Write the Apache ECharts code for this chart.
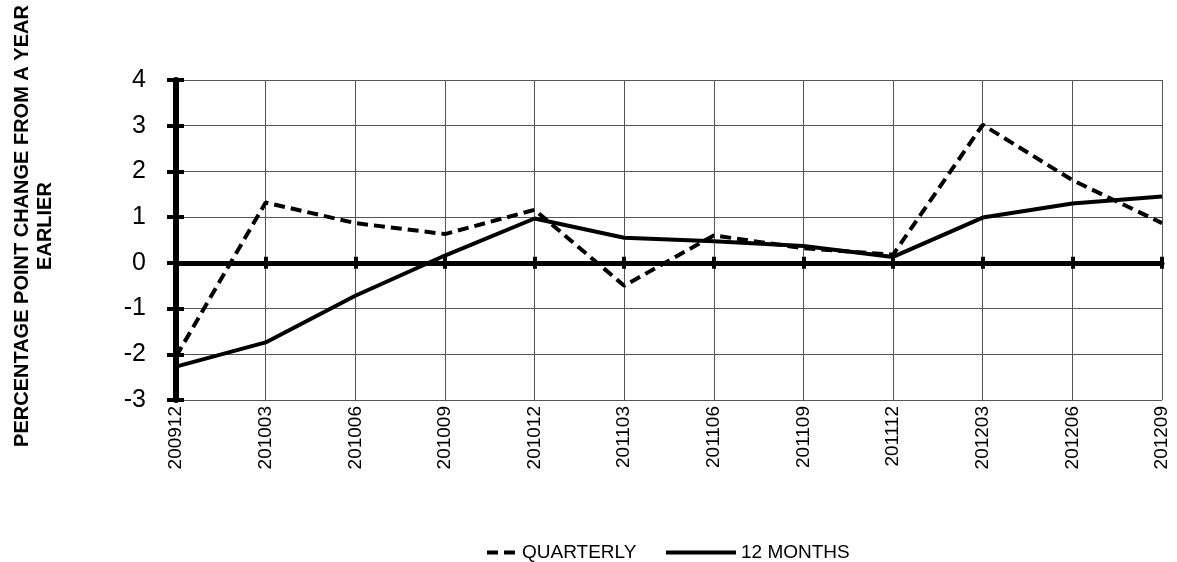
<!DOCTYPE html>
<html>
<head>
<meta charset="utf-8">
<script src="https://cdn.jsdelivr.net/npm/echarts@6/dist/echarts.min.js"></script>
<style>
html,body{margin:0;padding:0;background:#fff;}
#chart{width:1177px;height:562px;}
</style>
</head>
<body>
<div id="chart"></div>
<script>
var categories = ['200912','201003','201006','201009','201012','201103','201106','201109','201112','201203','201206','201209'];
var quarterly = [-2.05, 1.32, 0.87, 0.63, 1.16, -0.5, 0.6, 0.32, 0.18, 3.02, 1.81, 0.87];
var months12 = [-2.27, -1.74, -0.72, 0.16, 0.97, 0.55, 0.47, 0.37, 0.13, 0.99, 1.3, 1.45];
var yTicks = {min: -3, max: 4, interval: 1};
var yTitle = 'PERCENTAGE POINT CHANGE FROM A YEAR\nEARLIER';
var seriesNames = ['QUARTERLY', '12 MONTHS'];

var FONT = 'Liberation Sans, Arial, sans-serif';
var DASH = [11, 6];
var chart = echarts.init(document.getElementById('chart'), null, {renderer: 'canvas'});
chart.setOption({
  animation: false,
  backgroundColor: '#fff',
  grid: {left: 176, right: 15, top: 80, bottom: 162, containLabel: false, outerBoundsMode: 'none'},
  legend: [
    {data: [seriesNames[0]], left: 480, top: 538, itemWidth: 30, itemHeight: 14,
     itemStyle: {color: 'transparent', borderColor: 'transparent', borderWidth: 0},
     lineStyle: {color: '#000', width: 4, type: DASH},
     textStyle: {fontFamily: FONT, fontSize: 19, color: '#000'}},
    {data: [seriesNames[1]], left: 659, top: 538, itemWidth: 70, itemHeight: 14,
     itemStyle: {color: 'transparent', borderColor: 'transparent', borderWidth: 0},
     lineStyle: {color: '#000', width: 4, type: 'solid'},
     textStyle: {fontFamily: FONT, fontSize: 19, color: '#000'}}
  ],
  xAxis: [
    {type: 'category', data: categories, boundaryGap: false, position: 'bottom',
     axisLine: {show: false, onZero: false}, axisTick: {show: false},
     axisLabel: {rotate: 90, margin: 6, fontFamily: FONT, fontSize: 19, color: '#000'},
     splitLine: {show: true, lineStyle: {color: '#555', width: 1}}},
    {type: 'category', data: categories, boundaryGap: false, position: 'bottom',
     axisLine: {show: true, onZero: true, onZeroAxisIndex: 0, lineStyle: {color: '#000', width: 5}},
     axisTick: {show: true, inside: false, length: 6, lineStyle: {color: '#000', width: 4}},
     axisLabel: {show: false}, splitLine: {show: false}},
    {type: 'category', data: categories, boundaryGap: false, position: 'bottom',
     axisLine: {show: false, onZero: true, onZeroAxisIndex: 0},
     axisTick: {show: true, inside: true, length: 6, lineStyle: {color: '#000', width: 4}},
     axisLabel: {show: false}, splitLine: {show: false}}
  ],
  yAxis: [
    {type: 'value', min: yTicks.min, max: yTicks.max, interval: yTicks.interval, position: 'left',
     name: yTitle, nameLocation: 'middle', nameRotate: 90, nameGap: 119,
     nameTextStyle: {fontFamily: FONT, fontSize: 20, fontWeight: 'bold', color: '#000', lineHeight: 23, align: 'center', padding: [0, 0, 0, 28]},
     axisLine: {show: true, lineStyle: {color: '#000', width: 6}},
     axisTick: {show: true, inside: false, length: 9, lineStyle: {color: '#000', width: 4}},
     axisLabel: {margin: 30, fontFamily: FONT, fontSize: 25, color: '#000'},
     splitLine: {show: true, lineStyle: {color: '#555', width: 1}}},
    {type: 'value', min: yTicks.min, max: yTicks.max, interval: yTicks.interval, position: 'left',
     axisLine: {show: false}, axisTick: {show: true, inside: true, length: 8, lineStyle: {color: '#000', width: 4}},
     axisLabel: {show: false}, splitLine: {show: false}}
  ],
  series: [
    {name: seriesNames[0], type: 'line', data: quarterly, xAxisIndex: 0, yAxisIndex: 0,
     symbol: 'none', lineStyle: {color: '#000', width: 4, type: DASH}, itemStyle: {color: '#000'}},
    {name: seriesNames[1], type: 'line', data: months12, xAxisIndex: 0, yAxisIndex: 0,
     symbol: 'none', lineStyle: {color: '#000', width: 4, type: 'solid'}, itemStyle: {color: '#000'}}
  ]
});
</script>
</body>
</html>
